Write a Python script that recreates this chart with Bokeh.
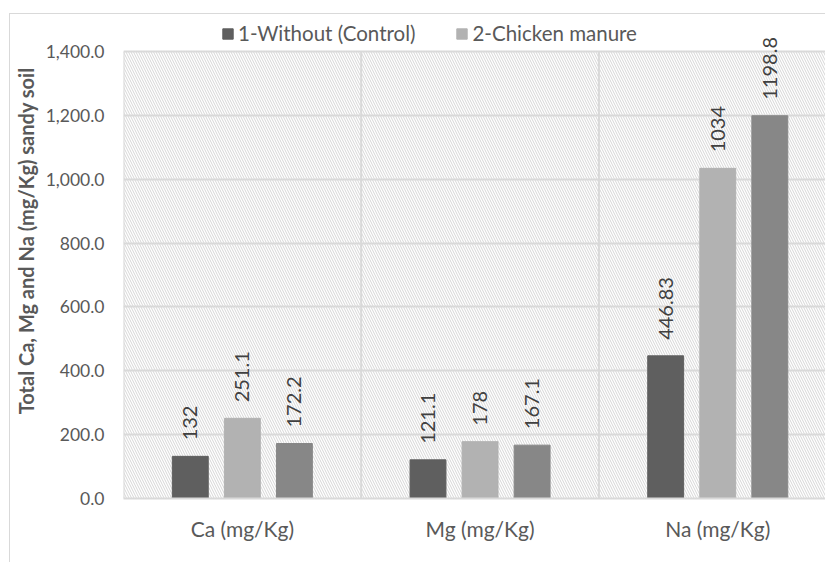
import math
from bokeh.plotting import figure
from bokeh.models import (Range1d, FixedTicker, NumeralTickFormatter, BoxAnnotation,
                          Legend, LegendItem, ColumnDataSource, Title)
from bokeh.core.properties import value
from bokeh.embed import file_html
from bokeh.resources import INLINE

# ---- data ----
categories = ["Ca (mg/Kg)", "Mg (mg/Kg)", "Na (mg/Kg)"]
series_names = ["1-Without (Control)", "2-Chicken manure", "3-Compost"]
control = [132, 121.1, 446.83]
chicken = [251.1, 178, 1034]
third = [172.2, 167.1, 1198.8]
labels_control = ["132", "121.1", "446.83"]
labels_chicken = ["251.1", "178", "1034"]
labels_third = ["172.2", "167.1", "1198.8"]
y_ticks = [0, 200, 400, 600, 800, 1000, 1200, 1400]
y_title = "Total Ca, Mg and Na  (mg/Kg) sandy soil"

colors = ["#5f5f5f", "#b2b2b2", "#878787"]
FONT = "Lato"
GRID = "#d9d9d9"

ncat = len(categories)
centers = [i + 0.5 for i in range(ncat)]
edges = [i for i in range(ncat + 1)]
y_max = y_ticks[-1]

# layout (pixels, relative to the canvas which starts at page (10, 14))
W, H = 816, 549
frame_left = 113
frame_bottom_border = 65
plot_h = 447            # height of the 0..1400 plot area
head = 37               # white band above the plot area (legend, labels)
y_end = y_max * (plot_h + head) / plot_h
cat_px = 237.7
x_end = (W - frame_left) / cat_px

p = figure(width=W, height=H, output_backend="svg", toolbar_location=None,
           x_range=Range1d(0, x_end), y_range=Range1d(0, y_end),
           min_border_left=frame_left, min_border_top=0,
           min_border_bottom=frame_bottom_border, min_border_right=0)
p.styles = {"margin-left": "9px", "margin-top": "13px",
            "border-left": "1px solid #d9d9d9", "border-top": "1px solid #d9d9d9"}
p.background_fill_color = "white"
p.border_fill_color = "white"
p.outline_line_color = None

# hatched plot-area background
p.add_layout(BoxAnnotation(level="image", left=edges[0], right=edges[-1], bottom=0, top=y_max,
                           fill_color="white", fill_alpha=1.0, line_color=None,
                           hatch_pattern="\\", hatch_color="#d6d6d6", hatch_scale=5,
                           hatch_weight=1))

# category separators
p.segment(x0=edges, x1=edges, y0=[0] * len(edges), y1=[y_max] * len(edges),
          line_color=GRID, line_width=2, level="underlay")

# axes
p.xaxis.ticker = FixedTicker(ticks=centers)
p.xaxis.major_label_overrides = {c: n for c, n in zip(centers, categories)}
p.xaxis.axis_line_color = GRID
p.xaxis.axis_line_width = 2
p.xaxis.major_tick_line_color = None
p.xaxis.major_tick_out = 0
p.xaxis.major_tick_in = 0
p.xaxis.minor_tick_line_color = None
p.xaxis.major_label_standoff = 17
p.xaxis.major_label_text_font = FONT
p.xaxis.major_label_text_font_size = "21px"
p.xaxis.major_label_text_color = "#595959"

p.yaxis.ticker = FixedTicker(ticks=y_ticks)
p.yaxis.formatter = NumeralTickFormatter(format="0,0.0")
p.yaxis.axis_line_color = None
p.yaxis.major_tick_line_color = None
p.yaxis.major_tick_out = 0
p.yaxis.major_tick_in = 0
p.yaxis.minor_tick_line_color = None
p.yaxis.major_label_standoff = 19
p.yaxis.major_label_text_font = FONT
p.yaxis.major_label_text_font_size = "17.5px"
p.yaxis.major_label_text_color = "#595959"

title = Title(text=y_title, align="right", vertical_align="top", offset=48, standoff=5,
              text_font=FONT, text_font_style="bold", text_font_size="20px",
              text_color="#595959")
p.add_layout(title, "left")

# grids
p.ygrid.ticker = FixedTicker(ticks=y_ticks)
p.ygrid.grid_line_color = GRID
p.ygrid.grid_line_width = 2
p.xgrid.grid_line_color = None

# bars
offsets = [-0.219, 0.0, 0.219]
bar_w = 0.151
series = [control, chicken, third]
series_labels = [labels_control, labels_chicken, labels_third]
renderers = []
for k, (vals, labs) in enumerate(zip(series, series_labels)):
    xs = [c + offsets[k] for c in centers]
    src = ColumnDataSource(dict(x=xs, top=vals, lab=labs))
    r = p.vbar(x="x", top="top", width=bar_w, bottom=0, source=src,
               fill_color=colors[k], line_color=colors[k])
    renderers.append(r)
    p.text(x="x", y="top", text="lab", source=src, angle=math.pi / 2,
           text_align="left", text_baseline="middle", y_offset=-16,
           text_font=value(FONT), text_font_size="20px", text_color="#404040")

# legend (only the first two series are visible in the reference)
legend = Legend(items=[LegendItem(label=series_names[0], renderers=[renderers[0]]),
                       LegendItem(label=series_names[1], renderers=[renderers[1]])],
                orientation="horizontal", location=(98, plot_h + 6),
                label_text_font=FONT, label_text_font_size="20.5px", label_text_color="#595959",
                glyph_width=13, glyph_height=13, label_standoff=4, spacing=40,
                padding=0, margin=0, background_fill_alpha=0, border_line_color=None)
p.add_layout(legend, "center")

open("out.html", "w").write(file_html(p, INLINE))
